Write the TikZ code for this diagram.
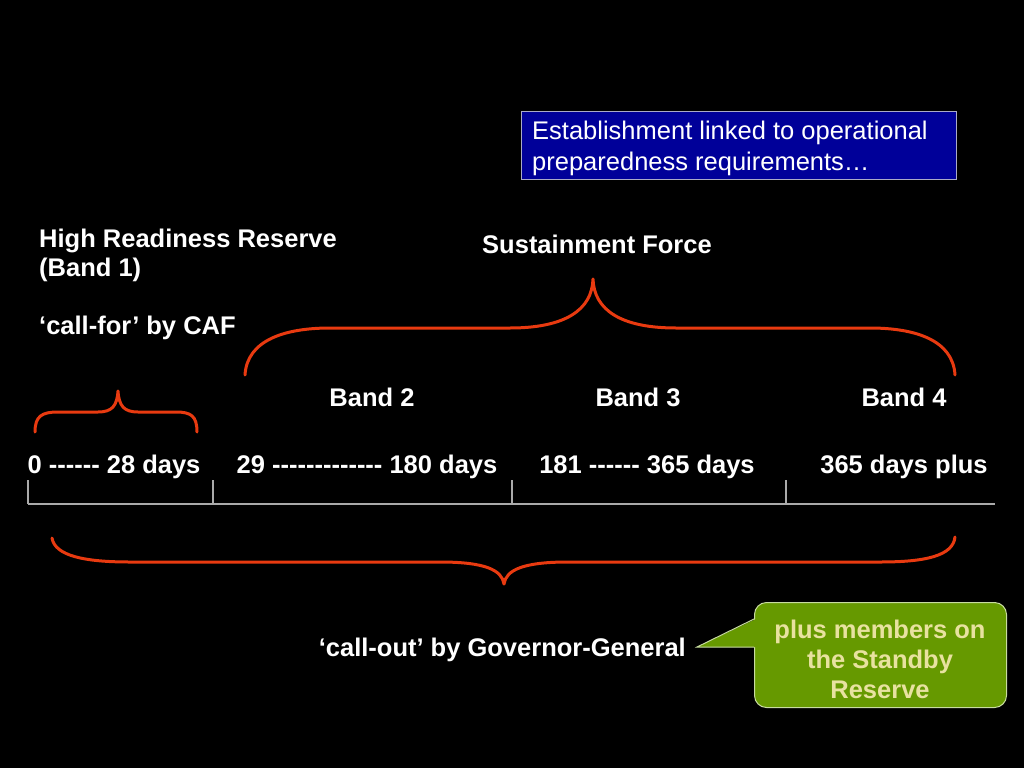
\documentclass[tikz,border=0pt]{standalone}
\usepackage{fontspec}
\setmainfont{Liberation Sans}[Ligatures=TeXOff]
\definecolor{braceRed}{RGB}{232,58,16}
\definecolor{boxBlue}{RGB}{0,0,153}
\definecolor{boxBlueEdge}{RGB}{170,170,200}
\definecolor{calloutGreen}{RGB}{102,153,0}
\definecolor{calloutEdge}{RGB}{200,220,160}
\definecolor{calloutText}{RGB}{232,226,160}
\definecolor{axisGrey}{RGB}{170,170,170}
\begin{document}
\begin{tikzpicture}[x=1pt,y=-1pt,
  lbl/.style={text=white,font=\fontsize{25.5}{29}\selectfont\bfseries,inner sep=0pt},
  bracepath/.style={draw=braceRed,line width=3pt,line cap=round,line join=round},
  axis/.style={draw=axisGrey,line width=1.4pt}]
\useasboundingbox (0,0) rectangle (1024,768);
\fill[black] (0,0) rectangle (1024,768);

% blue box
\node[draw=boxBlueEdge,fill=boxBlue,line width=1pt,minimum width=435pt,minimum height=68pt,anchor=north west,inner sep=0pt] (estbox) at (521,111) {};
\node[text=white,font=\fontsize{25.5}{31}\selectfont,anchor=base west,inner sep=0pt,align=left] (esttext) at (532,170) {Establishment linked to operational\\preparedness requirements…};

% left labels
\node[lbl,anchor=base west,align=left] (hrr) at (39,276) {High Readiness Reserve\\(Band 1)};
\node[lbl,anchor=base west] (callfor) at (39,334) {‘call-for’ by CAF};
\node[lbl,anchor=base] (sust) at (597,253) {Sustainment Force};

% band labels
\node[lbl,anchor=base] (band2) at (372,406) {Band 2};
\node[lbl,anchor=base] (band3) at (638,406) {Band 3};
\node[lbl,anchor=base] (band4) at (904,406) {Band 4};

% day ranges
\node[lbl,anchor=base] (r1) at (114,473) {0 ------ 28 days};
\node[lbl,anchor=base] (r2) at (367,473) {29 ------------- 180 days};
\node[lbl,anchor=base] (r3) at (647,473) {181 ------ 365 days};
\node[lbl,anchor=base] (r4) at (904,473) {365 days plus};

% timeline
\coordinate (t0) at (28,504);
\coordinate (tend) at (995,504);
\draw[axis] (t0) -- (tend);
\foreach \tx in {28,213,512,786} {\draw[axis] (\tx,480) -- (\tx,504);}

% small brace
\draw[bracepath] (35,432) .. controls (35,416) and (42,412) .. (58,412) -- (98,412)
  .. controls (112,412) and (117,406) .. (118,391)
  .. controls (119,406) and (124,412) .. (138,412) -- (176,412)
  .. controls (191,412) and (197,416) .. (197,432);

% top brace
\draw[bracepath] (245,375) .. controls (247,340) and (285,328) .. (330,328) -- (510,328)
  .. controls (565,328) and (592,310) .. (593,279)
  .. controls (594,310) and (621,328) .. (676,328) -- (870,328)
  .. controls (915,328) and (953,340) .. (955,375);

% bottom brace
\draw[bracepath] (52,538) .. controls (55,556) and (85,562) .. (130,562) -- (440,562)
  .. controls (485,562) and (502,570) .. (504,584)
  .. controls (506,570) and (523,562) .. (568,562) -- (880,562)
  .. controls (925,562) and (953,556) .. (955,537);

% call-out label
\node[lbl,anchor=base east] (callout) at (686,656) {‘call-out’ by Governor-General};

% green speech bubble
\node[draw=calloutEdge,fill=calloutGreen,line width=1pt,rounded corners=12pt,minimum width=252pt,minimum height=105pt,anchor=north west,inner sep=0pt] (bubble) at (754,602) {};
\coordinate (tip) at (697,647);
\fill[calloutGreen] (tip) -- (758,618) -- (758,647) -- cycle;
\draw[calloutEdge,line width=1pt] (754,619) -- (tip) -- (754,647);
\node[text=calloutText,font=\fontsize{25.5}{30}\selectfont\bfseries,anchor=base,align=center,inner sep=0pt] (bubbletext) at (880,698) {plus members on\\the Standby\\Reserve};
\end{tikzpicture}
\end{document}
